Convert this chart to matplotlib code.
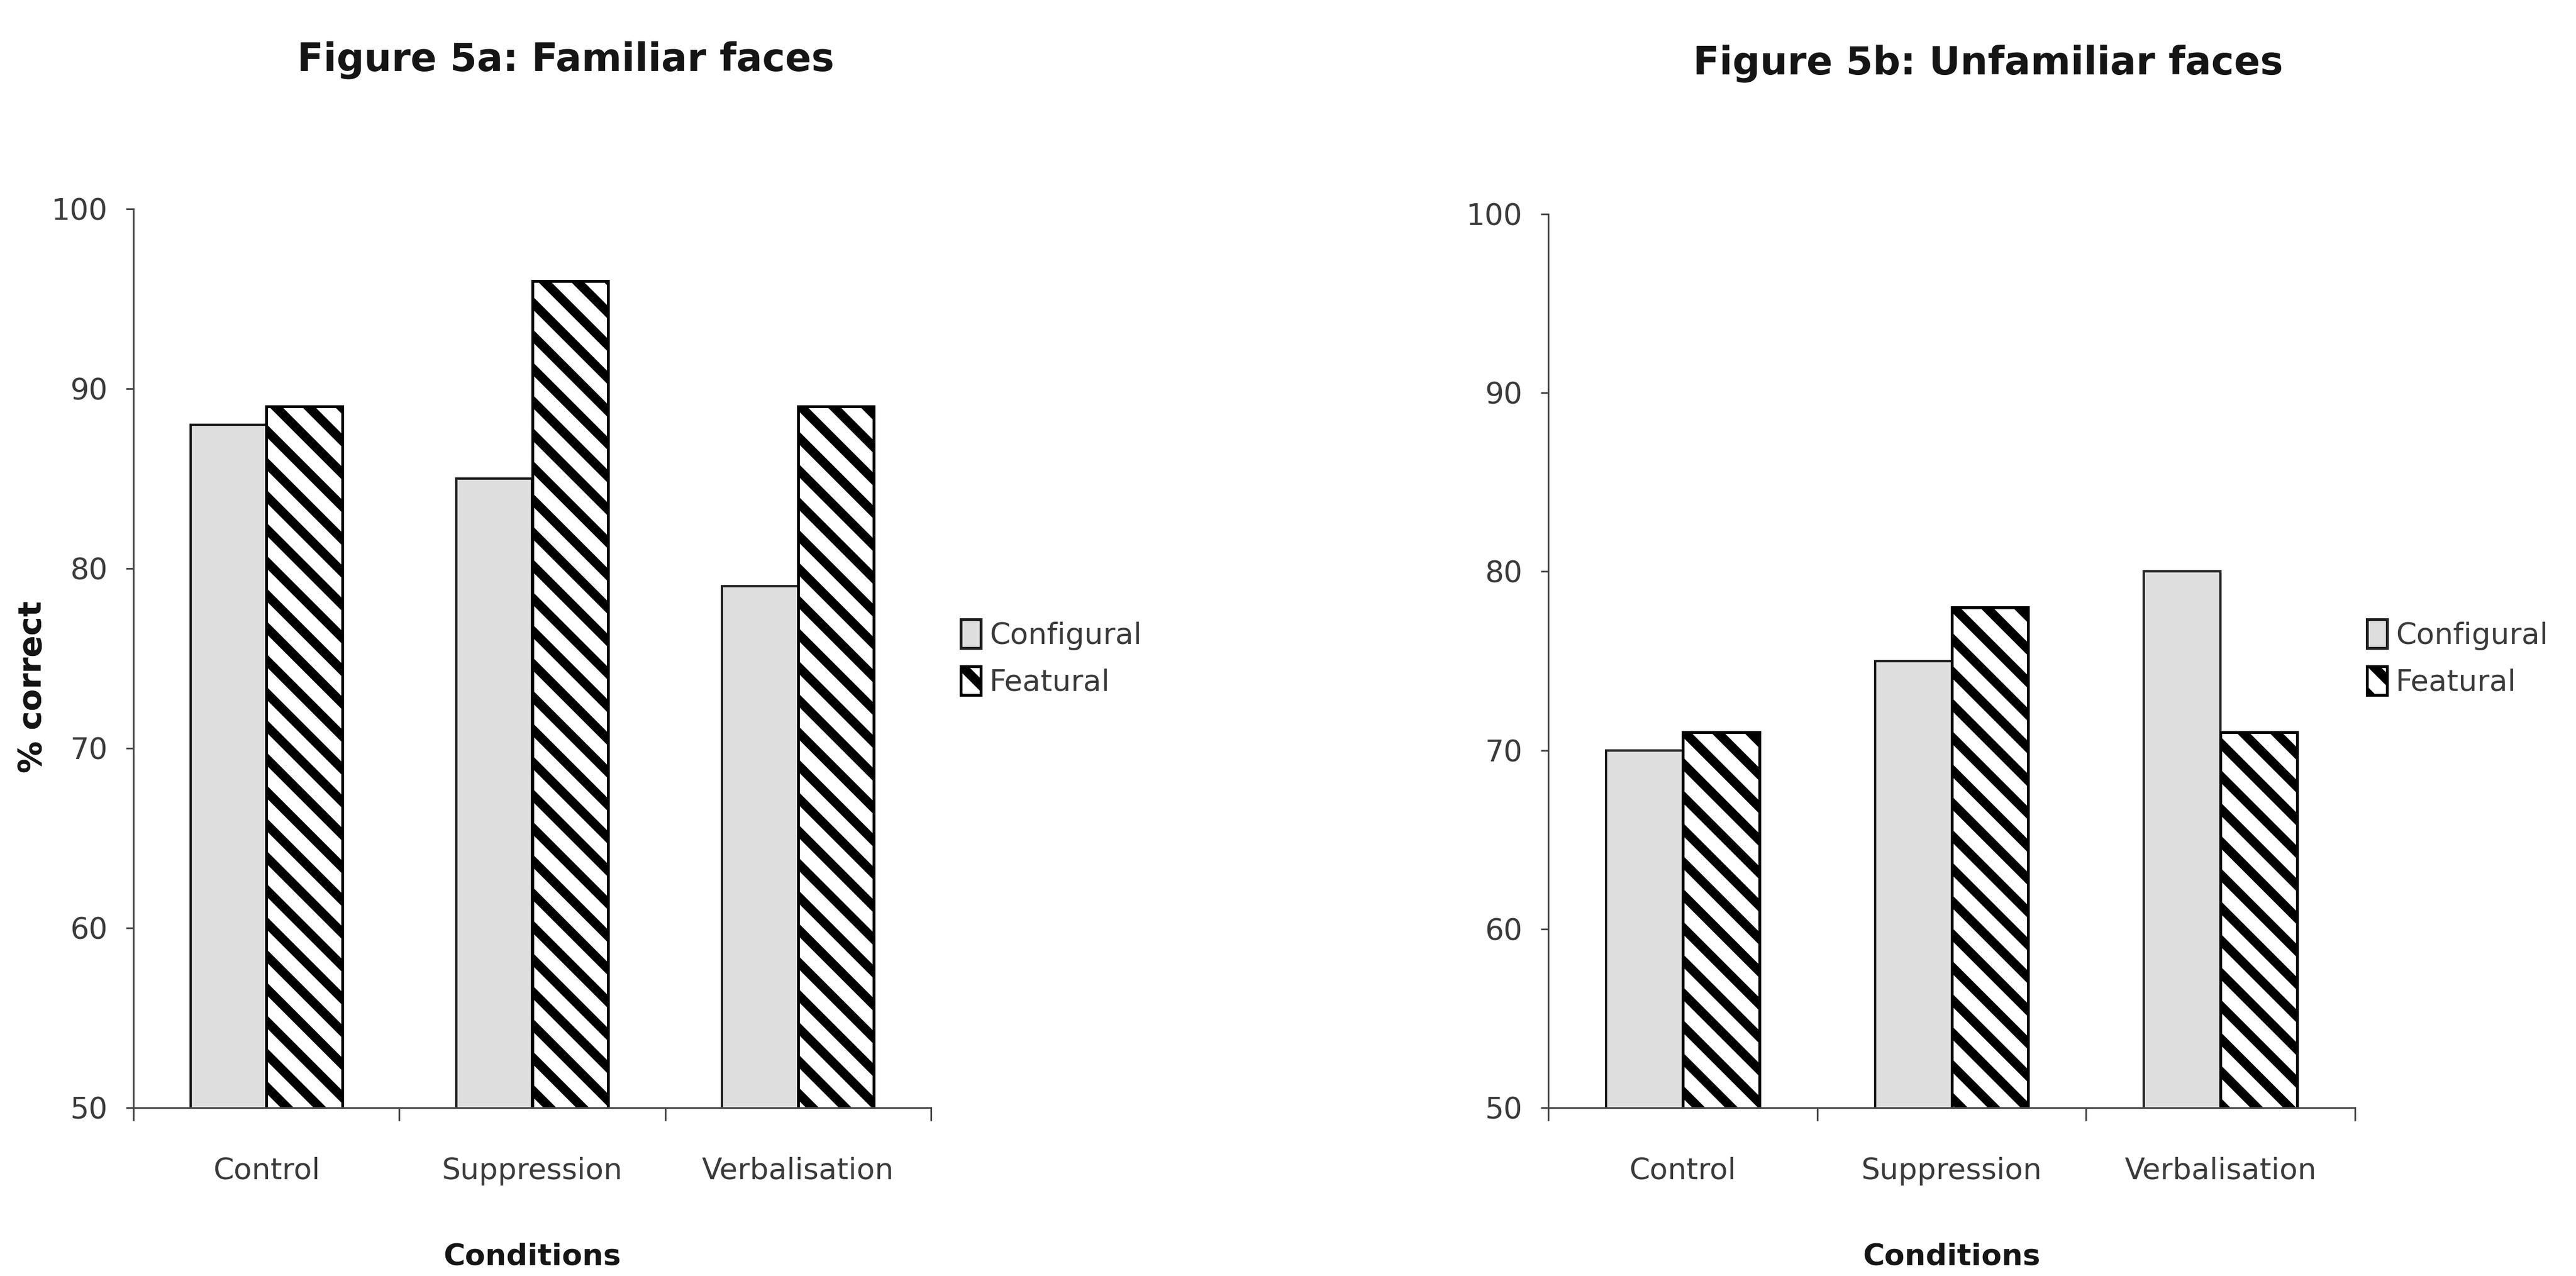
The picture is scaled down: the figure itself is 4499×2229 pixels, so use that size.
"""
Figure 5a / 5b: % correct for configural vs featural changes,
familiar and unfamiliar faces, by condition.
"""

import matplotlib
matplotlib.use("Agg")
import matplotlib.pyplot as plt
from matplotlib import font_manager
from matplotlib.patches import Patch
import numpy as np

# =========================
# DATA
# =========================
CONDITIONS = ["Control", "Suppression", "Verbalisation"]
SERIES = ["Configural", "Featural"]
FAMILIAR_CONFIGURAL = [88, 85, 79]
FAMILIAR_FEATURAL = [89, 96, 89]
UNFAMILIAR_CONFIGURAL = [70, 75, 80]
UNFAMILIAR_FEATURAL = [71, 78, 71]
Y_TICKS = [50, 60, 70, 80, 90, 100]
TITLES = ["Figure 5a: Familiar faces", "Figure 5b: Unfamiliar faces"]
X_LABEL = "Conditions"
Y_LABEL = "% correct"

# =========================
# CANVAS (pixels of the scanned page)
# =========================
W, H, DPI = 4499, 2229, 172


def pt(px):
    return px * 72.0 / DPI


# narrow face for the squeezed scan text, if the system has it
names = {f.name for f in font_manager.fontManager.ttflist}
if "Liberation Sans Narrow" in names:
    NARROW, K, KT = "Liberation Sans Narrow", 1.0, 1.0
else:
    NARROW, K, KT = "DejaVu Sans", 0.76, 0.70

TXT = "#3a3a3a"
DARK = "#151515"
SPINE = "#4a4a4a"
CONF_FILL = "#dedede"

plt.rcParams["hatch.linewidth"] = pt(16)
plt.rcParams["font.family"] = [NARROW, "DejaVu Sans"]

fig = plt.figure(figsize=(W / DPI, H / DPI), dpi=DPI, facecolor="white")

panels = [
    dict(rect=(233, 365, 1626, 1935), conf=FAMILIAR_CONFIGURAL, feat=FAMILIAR_FEATURAL,
         title=TITLES[0], title_x=988, title_base=124, leg_x=1678),
    dict(rect=(2704, 374, 4113, 1935), conf=UNFAMILIAR_CONFIGURAL, feat=UNFAMILIAR_FEATURAL,
         title=TITLES[1], title_x=3472, title_base=130, leg_x=4134),
]

x = np.arange(len(CONDITIONS))
bw = 0.285

for p in panels:
    x0, y0, x1, y1 = p["rect"]
    ax = fig.add_axes([x0 / W, 1 - y1 / H, (x1 - x0) / W, (y1 - y0) / H])

    ax.bar(x - bw / 2, p["conf"], bw, color=CONF_FILL, edgecolor="#1e1e1e",
           linewidth=pt(4), label=SERIES[0])
    ax.bar(x + bw / 2, p["feat"], bw, color="white", edgecolor="black",
           linewidth=pt(5), hatch="\\", label=SERIES[1])

    ax.set_xlim(-0.5, len(CONDITIONS) - 0.5)
    ax.set_ylim(Y_TICKS[0], Y_TICKS[-1])
    for side in ("top", "right"):
        ax.spines[side].set_visible(False)
    for side in ("left", "bottom"):
        ax.spines[side].set_color(SPINE)
        ax.spines[side].set_linewidth(pt(3))

    # y axis
    ax.set_yticks(Y_TICKS)
    ax.set_yticklabels([str(v) for v in Y_TICKS])
    ax.tick_params(axis="y", direction="out", length=pt(13), width=pt(3), color=SPINE,
                   pad=pt(32), labelsize=pt(68 * K), labelcolor=TXT)

    # x axis: separators at category edges, labels at centres
    ax.set_xticks(np.arange(len(CONDITIONS) + 1) - 0.5)
    ax.set_xticklabels([])
    ax.set_xticks(x, minor=True)
    ax.set_xticklabels(CONDITIONS, minor=True)
    ax.tick_params(axis="x", which="major", direction="out", length=pt(23), width=pt(3),
                   color=SPINE)
    ax.tick_params(axis="x", which="minor", length=0, pad=pt(86),
                   labelsize=pt(68 * K), labelcolor=TXT)

    ax.set_xlabel(X_LABEL, fontsize=pt(68 * K), fontweight="bold", color=DARK,
                  va="baseline")
    ax.xaxis.set_label_coords(0.5, (y1 - 2210) / (y1 - y0))

    ax.set_ylabel(Y_LABEL, family="DejaVu Sans", fontsize=pt(56), fontweight="bold",
                  color=DARK, va="center")
    ax.yaxis.set_label_coords((57 - x0) / (x1 - x0), (y1 - 1200) / (y1 - y0))

    fs = 68 * K
    ax.legend(
        handles=[
            Patch(facecolor=CONF_FILL, edgecolor="#1e1e1e", linewidth=pt(5)),
            Patch(facecolor="white", edgecolor="black", linewidth=pt(5), hatch="\\"),
        ],
        labels=SERIES,
        loc="center left",
        bbox_to_anchor=(p["leg_x"] / W, 1 - 1150 / H),
        bbox_transform=fig.transFigure,
        frameon=False,
        borderpad=0,
        borderaxespad=0,
        handlelength=35 / fs,
        handleheight=57 / fs,
        handletextpad=15 / fs,
        labelspacing=0.55,
        prop={"family": NARROW, "size": pt(fs)},
        labelcolor=TXT,
    )

    fig.text(p["title_x"] / W, 1 - p["title_base"] / H, p["title"], ha="center",
             va="baseline", fontsize=pt(96 * KT), fontweight="bold", color=DARK)

fig.savefig("out.png", dpi=DPI, facecolor="white")
